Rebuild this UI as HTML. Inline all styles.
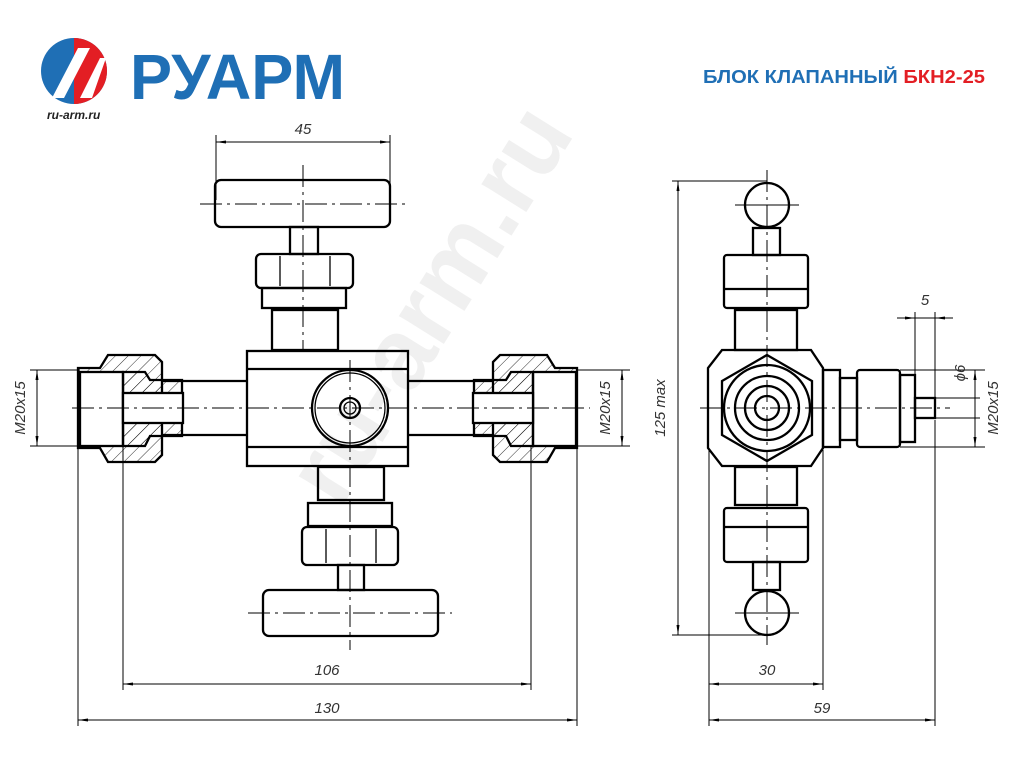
<!DOCTYPE html>
<html><head><meta charset="utf-8"><style>
html,body{margin:0;padding:0;background:#fff;}
svg{display:block}
</style></head><body>
<svg width="1024" height="768" viewBox="0 0 1024 768" xmlns="http://www.w3.org/2000/svg" font-family="Liberation Sans, sans-serif">
<defs>
<pattern id="h" width="9" height="9" patternUnits="userSpaceOnUse" patternTransform="rotate(45)">
<line x1="0" y1="0" x2="0" y2="9" stroke="#000" stroke-width="0.8"/></pattern>
<marker id="a" markerWidth="10" markerHeight="6" refX="10" refY="3" orient="auto-start-reverse"><path d="M0,1.5 L10,3 L0,4.5z" fill="#000"/></marker>
</defs>
<!-- watermark -->
<text x="0" y="0" transform="translate(340,510) rotate(-58)" font-size="100" font-weight="bold" fill="#f0f0f0">ru-arm.ru</text>
<!-- logo -->
<circle cx="74" cy="71" r="33" fill="#1f6fb5"/>
<path d="M74,38 A33,33 0 0 1 107,71 A33,33 0 0 1 74,104z" fill="#e31e24"/>
<path d="M52,98 L78,48 L90,48 L64,98z M80,98 L100,58 L106,58 L92,98z" fill="#fff"/>
<text x="130" y="99" font-size="64" font-weight="bold" fill="#1f6fb5" textLength="215" lengthAdjust="spacingAndGlyphs">РУАРМ</text>
<text x="47" y="119" font-size="12" font-style="italic" font-weight="bold" fill="#222">ru-arm.ru</text>
<text x="985" y="83" font-size="18" font-weight="bold" text-anchor="end" fill="#1f6fb5" textLength="282" lengthAdjust="spacingAndGlyphs">БЛОК КЛАПАННЫЙ <tspan fill="#e31e24">БКН2-25</tspan></text>

<g fill="none" stroke="#000" stroke-width="2.3">
<!-- left view -->
<rect x="215" y="180" width="175" height="47" rx="6"/>
<rect x="290" y="227" width="28" height="27"/>
<rect x="256" y="254" width="97" height="34" rx="5"/>
<line x1="280" y1="256" x2="280" y2="286" stroke-width="1.3"/><line x1="330" y1="256" x2="330" y2="286" stroke-width="1.3"/>
<rect x="262" y="288" width="84" height="20"/>
<rect x="272" y="310" width="66" height="40"/>
<rect x="247" y="351" width="161" height="115"/>
<line x1="247" y1="369" x2="408" y2="369"/><line x1="247" y1="447" x2="408" y2="447"/>
<circle cx="350" cy="408" r="38"/><circle cx="350" cy="408" r="35" stroke-width="1.3"/>
<circle cx="350" cy="408" r="10"/><circle cx="350" cy="408" r="6" stroke-width="1.3"/>
<rect x="318" y="467" width="66" height="33"/>
<rect x="308" y="503" width="84" height="23"/>
<rect x="302" y="527" width="96" height="38" rx="5"/>
<line x1="326" y1="529" x2="326" y2="563" stroke-width="1.3"/><line x1="376" y1="529" x2="376" y2="563" stroke-width="1.3"/>
<rect x="338" y="565" width="26" height="25"/>
<rect x="263" y="590" width="175" height="46" rx="6"/>
<!-- pipes -->
<path d="M162,381 L247,381 M162,435 L247,435"/>
<path d="M408,381 L493,381 M408,435 L493,435"/>
<!-- left fitting -->
<path d="M78,368 L100,368 L108,355 L155,355 L162,362 L162,455 L155,462 L108,462 L100,448 L78,448 z" fill="url(#h)"/>
<rect x="80" y="372" width="43" height="74" fill="#fff"/>
<path d="M123,372 L145,372 L150,380 L182,380 L182,436 L150,436 L145,446 L123,446z" fill="url(#h)"/>
<rect x="123" y="393" width="60" height="30" fill="#fff"/>
<!-- right fitting -->
<path d="M577,368 L555,368 L547,355 L500,355 L493,362 L493,455 L500,462 L547,462 L555,448 L577,448 z" fill="url(#h)"/>
<rect x="533" y="372" width="43" height="74" fill="#fff"/>
<path d="M533,372 L511,372 L506,380 L474,380 L474,436 L506,436 L511,446 L533,446z" fill="url(#h)"/>
<rect x="473" y="393" width="60" height="30" fill="#fff"/>

<!-- right view -->
<circle cx="767" cy="205" r="22"/>
<rect x="753" y="228" width="27" height="27"/>
<rect x="724" y="255" width="84" height="53" rx="3"/>
<line x1="724" y1="289" x2="808" y2="289"/>
<rect x="735" y="310" width="62" height="40"/>
<path d="M722,350 L811,350 L823,368 L823,448 L811,466 L722,466 L708,448 L708,368z"/>
<path d="M767,355 L812,381 L812,435 L767,461 L722,435 L722,381z"/>
<circle cx="767" cy="408" r="43"/><circle cx="767" cy="408" r="32"/><circle cx="767" cy="408" r="22"/><circle cx="767" cy="408" r="12"/>
<rect x="823" y="370" width="17" height="77"/>
<rect x="840" y="378" width="17" height="62"/>
<rect x="857" y="370" width="43" height="77" rx="3"/>
<rect x="900" y="375" width="15" height="67"/>
<rect x="915" y="398" width="20" height="20"/>
<rect x="735" y="467" width="62" height="38"/>
<rect x="724" y="508" width="84" height="54" rx="3"/>
<line x1="724" y1="527" x2="808" y2="527"/>
<rect x="753" y="562" width="27" height="28"/>
<circle cx="767" cy="613" r="22"/>
</g>

<!-- center lines -->
<g stroke="#000" stroke-width="1" stroke-dasharray="22,5,3,5" fill="none">
<line x1="303" y1="165" x2="303" y2="350"/>
<line x1="200" y1="204" x2="405" y2="204"/>
<line x1="350" y1="360" x2="350" y2="650"/>
<line x1="248" y1="613" x2="452" y2="613"/>
<line x1="72" y1="408" x2="590" y2="408"/>
<line x1="767" y1="170" x2="767" y2="645"/>
<line x1="700" y1="408" x2="950" y2="408"/>
</g>
<g stroke="#000" stroke-width="1" fill="none">
<line x1="735" y1="205" x2="799" y2="205"/><line x1="735" y1="613" x2="799" y2="613"/>
<line x1="216" y1="135" x2="216" y2="200"/><line x1="390" y1="135" x2="390" y2="200"/>
<line x1="216" y1="142" x2="390" y2="142" marker-start="url(#a)" marker-end="url(#a)"/>
<line x1="123" y1="446" x2="123" y2="690"/><line x1="531" y1="446" x2="531" y2="690"/>
<line x1="123" y1="684" x2="531" y2="684" marker-start="url(#a)" marker-end="url(#a)"/>
<line x1="78" y1="448" x2="78" y2="726"/><line x1="577" y1="448" x2="577" y2="726"/>
<line x1="78" y1="720" x2="577" y2="720" marker-start="url(#a)" marker-end="url(#a)"/>
<line x1="30" y1="370" x2="80" y2="370"/><line x1="30" y1="446" x2="80" y2="446"/>
<line x1="37" y1="370" x2="37" y2="446" marker-start="url(#a)" marker-end="url(#a)"/>
<line x1="577" y1="370" x2="630" y2="370"/><line x1="577" y1="446" x2="630" y2="446"/>
<line x1="622" y1="370" x2="622" y2="446" marker-start="url(#a)" marker-end="url(#a)"/>
<line x1="672" y1="181" x2="767" y2="181"/><line x1="672" y1="635" x2="767" y2="635"/>
<line x1="678" y1="181" x2="678" y2="635" marker-start="url(#a)" marker-end="url(#a)"/>
<line x1="709" y1="450" x2="709" y2="726"/><line x1="823" y1="450" x2="823" y2="690"/>
<line x1="709" y1="684" x2="823" y2="684" marker-start="url(#a)" marker-end="url(#a)"/>
<line x1="935" y1="420" x2="935" y2="726"/>
<line x1="709" y1="720" x2="935" y2="720" marker-start="url(#a)" marker-end="url(#a)"/>
<line x1="915" y1="312" x2="915" y2="398"/><line x1="935" y1="312" x2="935" y2="398"/>
<line x1="897" y1="318" x2="915" y2="318" marker-end="url(#a)"/><line x1="953" y1="318" x2="935" y2="318" marker-end="url(#a)"/>
<line x1="915" y1="318" x2="935" y2="318"/>
<line x1="900" y1="370" x2="985" y2="370"/><line x1="900" y1="447" x2="985" y2="447"/>
<line x1="935" y1="398" x2="980" y2="398"/><line x1="935" y1="418" x2="980" y2="418"/>
<line x1="975" y1="370" x2="975" y2="447" marker-start="url(#a)" marker-end="url(#a)"/>
</g>
<g font-size="15" font-style="italic" fill="#333" text-anchor="middle">
<text x="303" y="134">45</text>
<text x="327" y="675">106</text>
<text x="327" y="713">130</text>
<text x="767" y="675">30</text>
<text x="822" y="713">59</text>
<text x="925" y="305">5</text>
<text transform="translate(25,408) rotate(-90)">M20x15</text>
<text transform="translate(610,408) rotate(-90)">M20x15</text>
<text transform="translate(665,408) rotate(-90)">125 max</text>
<text transform="translate(965,373) rotate(-90)">ϕ6</text>
<text transform="translate(998,408) rotate(-90)">M20x15</text>
</g>
</svg>
</body></html>
